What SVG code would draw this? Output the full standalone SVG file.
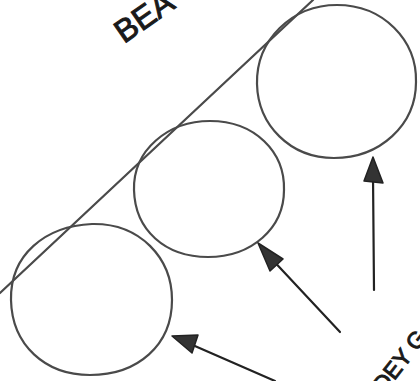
<svg xmlns="http://www.w3.org/2000/svg" width="420" height="381" viewBox="0 0 420 381">
<style>
.c{fill:none;stroke:#4a4a4a;stroke-width:2.2;stroke-linecap:round}
.a{fill:none;stroke:#222;stroke-width:2.2;stroke-linecap:round}
.h{fill:#333;stroke:#222;stroke-width:1.5;stroke-linejoin:round}
.t{font-family:"Liberation Sans",Arial,sans-serif;fill:#1a1a1a;stroke:#1a1a1a;stroke-width:1}
</style>
<rect width="420" height="381" fill="#fff"/>
<g id="beam">
<line class="c" x1="313" y1="0" x2="0" y2="293"/>
</g>
<g id="circle1">
<path class="c" d="M11,300 C10,255 45,226 92,224 C140,223 172,258 172,300 C172,345 138,375 90,375 C45,375 12,345 11,300 Z"/>
</g>
<g id="circle2">
<path class="c" d="M134,190 C133,150 168,121 210,121 C255,121 285,152 284,190 C284,228 252,257 208,257 C165,257 135,230 134,190 Z"/>
</g>
<g id="circle3">
<path class="c" d="M257,84 C256,40 292,5 337,5 C383,5 417,40 416,82 C416,125 380,158 334,158 C290,158 258,125 257,84 Z"/>
</g>
<g id="connectors">
<line class="a" x1="374" y1="290" x2="373" y2="175"/>
<path class="h" d="M373,157 L364,181 L383,183 Z"/>
<line class="a" x1="340" y1="332" x2="268" y2="255"/>
<path class="h" d="M258,243 L283,259 L270,271 Z"/>
<line class="a" x1="275" y1="381" x2="188" y2="343"/>
<path class="h" d="M172,336 L198,335 L192,353 Z"/>
</g>
<g id="labels">
<text class="t" x="124" y="44" font-size="32" transform="rotate(-35 124 44)">BEA</text>
<text class="t" x="384" y="394" font-size="23" transform="rotate(-52 384 394)">DEY G</text>
</g>
</svg>
